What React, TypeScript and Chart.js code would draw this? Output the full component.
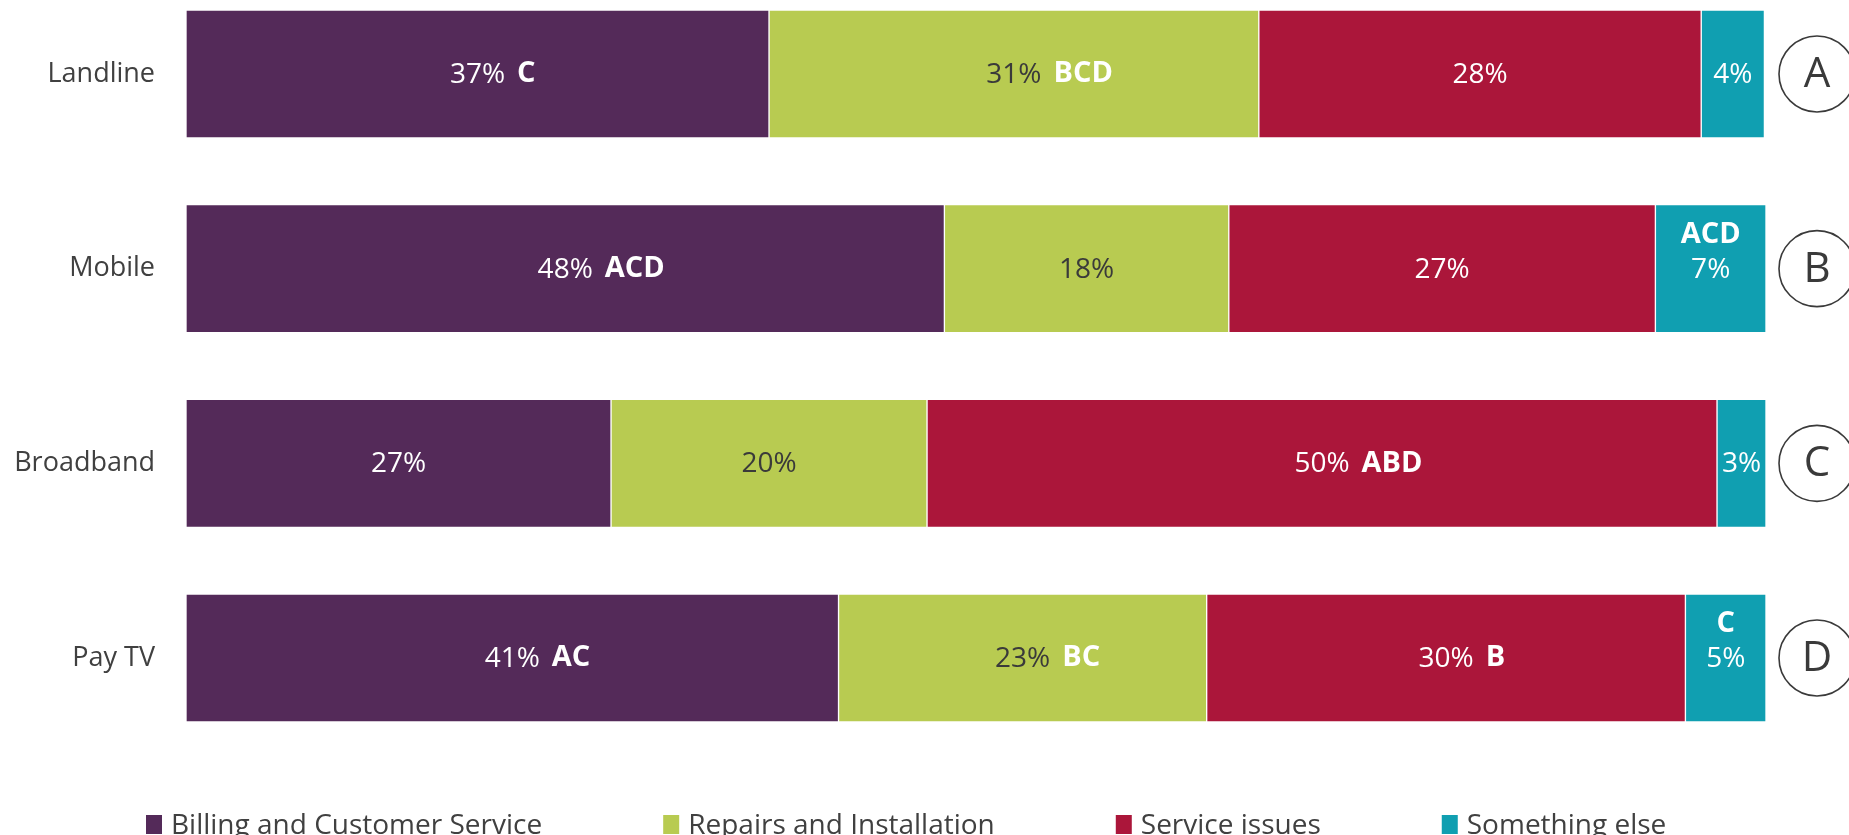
import React, { useEffect, useRef } from 'react';
import { Chart, registerables } from 'chart.js';

Chart.register(...registerables);

// ---- data ----
const categories = ['Landline', 'Mobile', 'Broadband', 'Pay TV'];
const groupLetters = ['A', 'B', 'C', 'D'];
const seriesNames = ['Billing and Customer Service', 'Repairs and Installation', 'Service issues', 'Something else'];

const billingValues = [36.9, 48.0, 26.9, 41.3];
const repairsValues = [31.0, 18.0, 20.0, 23.3];
const serviceValues = [28.0, 27.0, 50.0, 30.3];
const elseValues = [4.0, 7.0, 3.1, 5.1];

const billingLabels = ['37%', '48%', '27%', '41%'];
const repairsLabels = ['31%', '18%', '20%', '23%'];
const serviceLabels = ['28%', '27%', '50%', '30%'];
const elseLabels = ['4%', '7%', '3%', '5%'];

const billingSig = ['C', 'ACD', '', 'AC'];
const repairsSig = ['BCD', '', '', 'BC'];
const serviceSig = ['', '', 'ABD', 'B'];
const elseSig = ['', 'ACD', '', 'C'];

const seriesColors = ['#542A59', '#B8CB51', '#AB163A', '#109FB1'];
const pctColors = ['#FFFFFF', '#3A3A3A', '#FFFFFF', '#FFFFFF'];

const FONT = '"Open Sans", "Noto Sans", sans-serif';
const TEXT_DARK = '#404040';

const labelPlugin = {
  id: 'segmentLabels',
  afterDatasetsDraw(chart: any) {
    const ctx = chart.ctx;
    ctx.save();
    chart.data.datasets.forEach((ds: any, di: number) => {
      const meta = chart.getDatasetMeta(di);
      meta.data.forEach((el: any, i: number) => {
        const { x, y, base } = el.getProps(['x', 'y', 'base'], true);
        const left = Math.min(x, base);
        const right = Math.max(x, base);
        const cx = (left + right) / 2;
        const pct = ds.pctLabels[i];
        const sig = ds.sigLabels[i];
        ctx.font = `400 28px ${FONT}`;
        const pw = ctx.measureText(pct).width;
        ctx.textBaseline = 'middle';
        ctx.textAlign = 'center';
        ctx.fillStyle = ds.pctColor;
        ctx.fillText(pct, cx, y + 1);
        if (sig) {
          ctx.font = `700 29px ${FONT}`;
          const sw = ctx.measureText(sig).width;
          const gap = 12;
          ctx.fillStyle = '#FFFFFF';
          if (pw + gap + sw > right - left - 30) {
            ctx.textAlign = 'center';
            ctx.fillText(sig, cx, y - 34);
          } else {
            ctx.textAlign = 'left';
            ctx.fillText(sig, cx + pw / 2 + gap, y);
          }
        }
      });
    });
    ctx.restore();
  },
};

const decorPlugin = {
  id: 'decor',
  afterDraw(chart: any) {
    const ctx = chart.ctx;
    const area = chart.chartArea;
    const yScale = chart.scales.y;
    ctx.save();
    // group circles
    groupLetters.forEach((letter, i) => {
      const cy = yScale.getPixelForValue(i);
      const cx = area.right + 51;
      ctx.beginPath();
      ctx.arc(cx, cy, 38, 0, Math.PI * 2);
      ctx.strokeStyle = '#3A3A3A';
      ctx.lineWidth = 1.6;
      ctx.stroke();
      ctx.font = `400 42px ${FONT}`;
      ctx.fillStyle = '#3A3A3A';
      ctx.textAlign = 'center';
      ctx.textBaseline = 'middle';
      ctx.fillText(letter, cx, cy + 1);
    });
    // legend
    ctx.font = `400 28px ${FONT}`;
    ctx.textAlign = 'left';
    ctx.textBaseline = 'alphabetic';
    let lx = 146;
    const baseY = 834;
    seriesNames.forEach((name, i) => {
      ctx.fillStyle = seriesColors[i];
      ctx.fillRect(lx, 815, 16, 19);
      ctx.fillStyle = TEXT_DARK;
      ctx.fillText(name, lx + 25, baseY);
      lx += 25 + ctx.measureText(name).width + 121;
    });
    ctx.restore();
  },
};

export default function App() {
  const canvasRef = useRef<HTMLCanvasElement | null>(null);

  useEffect(() => {
    if (!canvasRef.current) return;
    const values = [billingValues, repairsValues, serviceValues, elseValues];
    const pcts = [billingLabels, repairsLabels, serviceLabels, elseLabels];
    const sigs = [billingSig, repairsSig, serviceSig, elseSig];
    const chart = new Chart(canvasRef.current, {
      type: 'bar',
      data: {
        labels: categories,
        datasets: seriesNames.map((name, i) => ({
          label: name,
          data: values[i],
          backgroundColor: seriesColors[i],
          borderColor: '#FFFFFF',
          borderWidth: 1,
          borderSkipped: false,
          barThickness: 128,
          clip: false,
          pctLabels: pcts[i],
          sigLabels: sigs[i],
          pctColor: pctColors[i],
        })) as any,
      },
      options: {
        indexAxis: 'y',
        animation: false,
        responsive: false,
        layout: { padding: { top: 74, bottom: 177, left: 0, right: 83 } },
        plugins: {
          legend: { display: false },
          tooltip: { enabled: false },
        },
        scales: {
          x: {
            stacked: true,
            min: 0,
            max: 100,
            display: false,
          },
          y: {
            stacked: true,
            offset: false,
            grid: { display: false },
            border: { display: false },
            ticks: {
              padding: 23,
              color: TEXT_DARK,
              font: { family: FONT, size: 27 },
            },
            afterFit: (scale: any) => {
              scale.width = 186;
            },
          },
        },
      } as any,
      plugins: [labelPlugin, decorPlugin],
    });
    return () => chart.destroy();
  }, []);

  return (
    <div style={{ position: 'absolute', left: 0, top: 0, width: 1849, height: 835, background: '#FFFFFF' }}>
      <canvas ref={canvasRef} width={1849} height={835} style={{ display: 'block' }} />
    </div>
  );
}
